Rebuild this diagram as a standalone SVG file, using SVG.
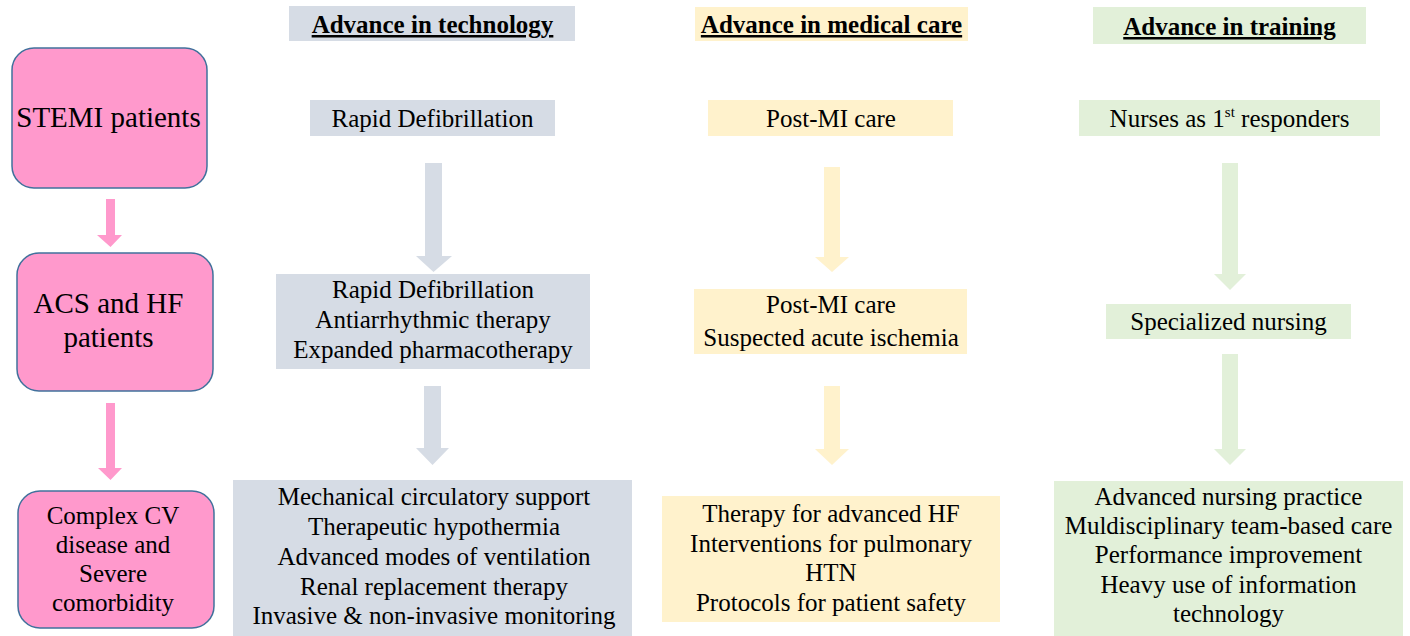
<svg xmlns="http://www.w3.org/2000/svg" width="1410" height="636" viewBox="0 0 1410 636">
<style>
text{font-family:"Liberation Serif","Times New Roman",serif;fill:#000;text-anchor:middle}
.t{font-size:25px}
.big{font-size:29px}
.h{font-size:25px;font-weight:bold;text-decoration:underline}
.pink{fill:#FF99CC;stroke:#41719C;stroke-width:1.5}
.gray{fill:#D6DCE5}
.yel{fill:#FFF2CC}
.grn{fill:#E2F0D9}
.pa{fill:#FF99CC}
</style>
<rect width="1410" height="636" fill="#fff"/>

<g id="connectors">
  <path class="pa" d="M106,199H115V235H122L110.5,247L97,235H106Z"/>
  <path class="pa" d="M106,403H115V468H122L110.5,480L98,468H106Z"/>
  <path class="gray" d="M425,163H442V256H452L433.5,272L416,256H425Z"/>
  <path class="gray" d="M424,386H441V448H449L432.5,465L416,448H424Z"/>
  <path class="yel" d="M824,167H840V257H849L832,272L815,257H824Z"/>
  <path class="yel" d="M824,386H840V449H849L832,465L815,449H824Z"/>
  <path class="grn" d="M1222,163H1238V274H1246L1230,290L1214,274H1222Z"/>
  <path class="grn" d="M1222,354H1238V449H1246L1230,465L1214,449H1222Z"/>
</g>

<g id="stemi">
  <rect class="pink" x="12" y="48" width="195" height="140" rx="22"/>
  <text class="big" x="108.5" y="127">STEMI patients</text>
</g>
<g id="acs">
  <rect class="pink" x="17" y="253" width="196" height="138" rx="22"/>
  <text class="big" x="108.5" y="313">ACS and HF</text>
  <text class="big" x="108.5" y="347">patients</text>
</g>
<g id="complex">
  <rect class="pink" x="18" y="491" width="196" height="137" rx="22"/>
  <text class="t" x="113" y="524">Complex CV</text>
  <text class="t" x="113" y="553">disease and</text>
  <text class="t" x="113" y="582">Severe</text>
  <text class="t" x="113" y="611">comorbidity</text>
</g>

<g id="hdr-tech">
  <rect class="gray" x="289" y="6" width="286" height="35"/>
  <text class="h" x="432.5" y="33">Advance in technology</text>
</g>
<g id="tech1">
  <rect class="gray" x="310" y="100" width="245" height="36"/>
  <text class="t" x="432.5" y="127">Rapid Defibrillation</text>
</g>
<g id="tech2">
  <rect class="gray" x="276" y="274" width="314" height="95"/>
  <text class="t" x="433" y="298">Rapid Defibrillation</text>
  <text class="t" x="433" y="328">Antiarrhythmic therapy</text>
  <text class="t" x="433" y="358">Expanded pharmacotherapy</text>
</g>
<g id="tech3">
  <rect class="gray" x="233" y="480" width="399" height="156"/>
  <text class="t" x="434" y="505">Mechanical circulatory support</text>
  <text class="t" x="434" y="535">Therapeutic hypothermia</text>
  <text class="t" x="434" y="565">Advanced modes of ventilation</text>
  <text class="t" x="434" y="595">Renal replacement therapy</text>
  <text class="t" x="434" y="624">Invasive &amp; non-invasive monitoring</text>
</g>

<g id="hdr-med">
  <rect class="yel" x="695" y="7" width="273" height="34"/>
  <text class="h" x="831.5" y="33">Advance in medical care</text>
</g>
<g id="med1">
  <rect class="yel" x="708" y="100" width="245" height="36"/>
  <text class="t" x="831" y="127">Post-MI care</text>
</g>
<g id="med2">
  <rect class="yel" x="694" y="289" width="273" height="65"/>
  <text class="t" x="831" y="313">Post-MI care</text>
  <text class="t" x="831" y="346">Suspected acute ischemia</text>
</g>
<g id="med3">
  <rect class="yel" x="662" y="496" width="338" height="126"/>
  <text class="t" x="831" y="522">Therapy for advanced HF</text>
  <text class="t" x="831" y="552">Interventions for pulmonary</text>
  <text class="t" x="831" y="581">HTN</text>
  <text class="t" x="831" y="611">Protocols for patient safety</text>
</g>

<g id="hdr-train">
  <rect class="grn" x="1093" y="7" width="273" height="37"/>
  <text class="h" x="1229.5" y="35">Advance in training</text>
</g>
<g id="train1">
  <rect class="grn" x="1079" y="100" width="301" height="36"/>
  <text class="t" x="1229.5" y="127">Nurses as 1<tspan font-size="15" dy="-10">st</tspan><tspan dy="10"> responders</tspan></text>
</g>
<g id="train2">
  <rect class="grn" x="1106" y="304" width="245" height="35"/>
  <text class="t" x="1228.5" y="330">Specialized nursing</text>
</g>
<g id="train3">
  <rect class="grn" x="1054" y="481" width="349" height="155"/>
  <text class="t" x="1228.5" y="505">Advanced nursing practice</text>
  <text class="t" x="1228.5" y="534">Muldisciplinary team-based care</text>
  <text class="t" x="1228.5" y="563">Performance improvement</text>
  <text class="t" x="1228.5" y="593">Heavy use of information</text>
  <text class="t" x="1228.5" y="622">technology</text>
</g>
</svg>
